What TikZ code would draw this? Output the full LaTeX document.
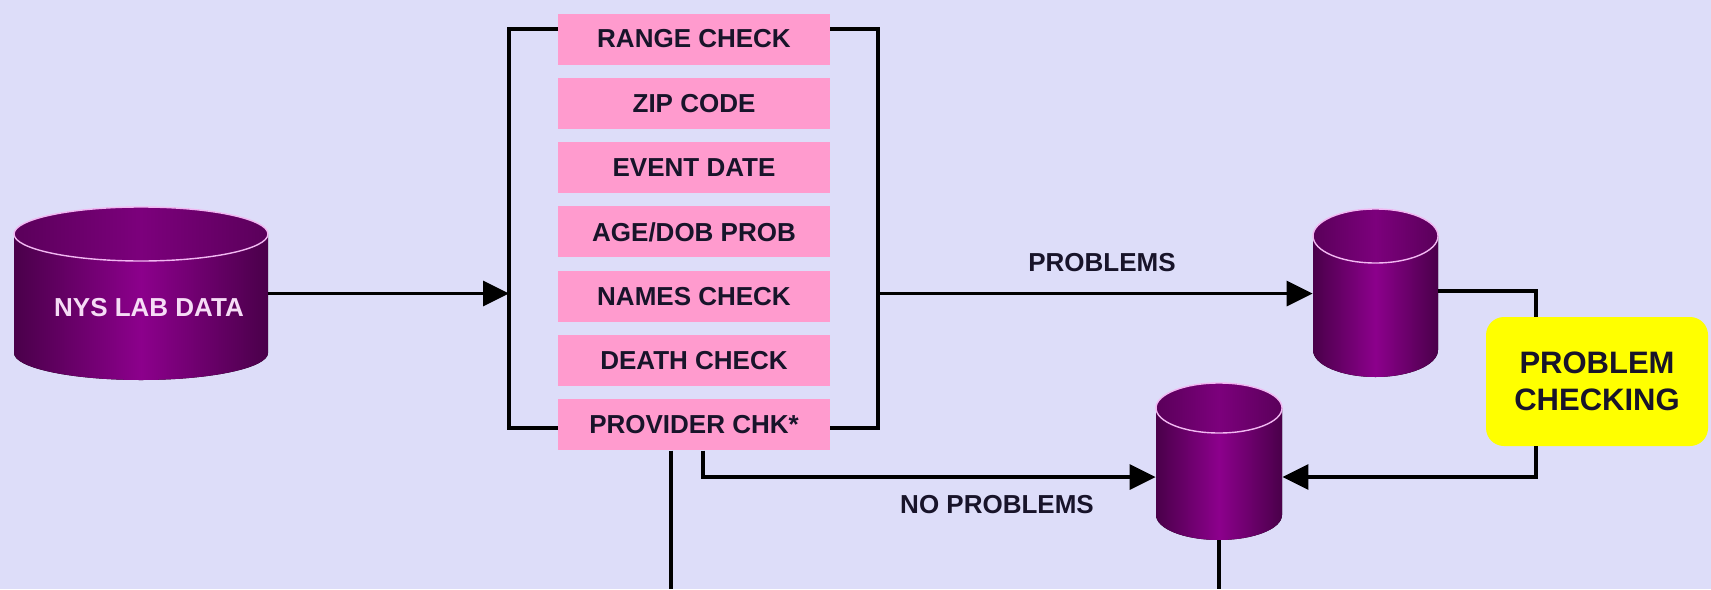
\documentclass[tikz,border=0pt]{standalone}
\usepackage{fontspec}
\setmainfont{Liberation Sans}
\usetikzlibrary{arrows.meta}
\definecolor{bg}{HTML}{DDDDF9}
\definecolor{pinkbox}{HTML}{FF9BCE}
\definecolor{ink}{HTML}{18142A}
\definecolor{cylD}{HTML}{4A004A}
\definecolor{cylM}{HTML}{8C008C}
\definecolor{cylT}{HTML}{7C007C}
\definecolor{cylTD}{HTML}{5A005A}
\definecolor{cylE}{HTML}{F2B8F2}
\definecolor{cyltext}{HTML}{F6DCF6}
\definecolor{yel}{HTML}{FFFF00}
\newcommand\dbcyl[6]{%
  \fill[left color=cylD,right color=cylD,middle color=cylM]
    (#2,{#4+#6}) -- (#2,{#5-#6}) arc[start angle=180, end angle=0, x radius={(#3-#2)/2}, y radius=#6]
    -- (#3,{#4+#6}) -- cycle;
  \filldraw[left color=cylTD,right color=cylTD,middle color=cylT, draw=cylE, line width=0.7pt] ({(#2+#3)/2},{#4+#6}) ellipse [x radius={(#3-#2)/2}, y radius=#6];
  \node[inner sep=0pt, minimum width={(#3-#2)*0.5pt}, minimum height={(#5-#4)*0.5pt}] (#1) at ({(#2+#3)/2},{(#4+#5)/2}) {};
}
\tikzset{
  chkbox/.style={fill=pinkbox, inner sep=0pt, minimum width=136pt, minimum height=25.5pt,
    font=\bfseries\fontsize{13}{15}\selectfont, text=ink},
  conn/.style={draw=black, line width=1.6pt},
  arr/.style={conn, -{Triangle[length=13pt,width=12.5pt]}},
  lbl/.style={font=\bfseries\fontsize{13}{15}\selectfont, text=ink, inner sep=0pt},
  probbox/.style={fill=yel, rounded corners=9pt, inner sep=0pt, minimum width=111pt, minimum height=64.5pt,
    align=center, font=\bfseries\fontsize{15.5}{18.5}\selectfont, text=ink}
}
\begin{document}
\begin{tikzpicture}[x=0.5pt,y=-0.5pt]
\useasboundingbox (0,0) rectangle (1711,589);
\fill[bg] (0,0) rectangle (1711,589);

% databases
\dbcyl{nys}{14}{268}{207}{380}{27}
\node[font=\bfseries\fontsize{13}{15}\selectfont, text=cyltext] (nyst) at (149,308) {NYS LAB DATA};
\dbcyl{cylp}{1313}{1438}{209}{377}{27}
\dbcyl{cyln}{1156}{1282}{383}{540}{25}

% check boxes
\foreach \t [count=\i] in {RANGE CHECK, ZIP CODE, EVENT DATE, AGE/DOB PROB, NAMES CHECK, DEATH CHECK, PROVIDER CHK*}
  \node[chkbox] (b\i) at (694,{39+64.3*(\i-1)}) {\t};

% problem checking
\node[probbox] (pc) at (1597,381.5) {PROBLEM\\CHECKING};

% coordinates for brackets and bends
\coordinate (lbt) at (509,29);
\coordinate (lbb) at (509,428);
\coordinate (rbt) at (878,29);
\coordinate (rbb) at (878,428);
\coordinate (j1) at (1536,291);
\coordinate (j2) at (1536,477);
\coordinate (j3) at (703,477);
\coordinate (e1) at (671,589);
\coordinate (e2) at (1218,589);

% brackets
\draw[conn] (b1.west |- lbt) -- (lbt) -- (lbb) -- (b7.west |- lbb);
\draw[conn] (b1.east |- rbt) -- (rbt) -- (rbb) -- (b7.east |- rbb);

% connectors
\draw[arr] (nys.east) -- (lbt |- nys.east);
\draw[arr] (rbt |- nys.east) -- (cylp.west |- nys.east);
\node[lbl] (lp) at (1102,263) {PROBLEMS};
\draw[conn] (cylp.east |- j1) -- (j1) -- (j1 |- pc.north);
\draw[arr] (j1 |- pc.south) -- (j2) -- (cyln.east |- j2);
\draw[arr] (j3 |- b7.south) -- (j3) -- (cyln.west |- j3);
\node[lbl] (lnp) at (997,505) {NO PROBLEMS};
\draw[conn] (e1 |- b7.south) -- (e1);
\draw[conn] (cyln.south) -- (cyln.south |- e2);
\end{tikzpicture}
\end{document}
